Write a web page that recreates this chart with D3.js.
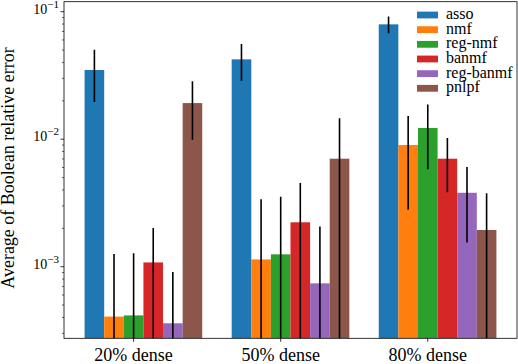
<!DOCTYPE html>
<html>
<head>
<meta charset="utf-8">
<script src="https://cdn.jsdelivr.net/npm/d3@7/dist/d3.min.js"></script>
<style>
  body { margin: 0; background: #fff; }
</style>
</head>
<body>
<div id="chart"></div>
<script>
const WIDTH = 518
const HEIGHT = 364
const FONT = "'Liberation Serif', 'Times New Roman', Times, 'DejaVu Serif', serif"

// donnees
const categories = ["20% dense", "50% dense", "80% dense"]
const methods = ["asso", "nmf", "reg-nmf", "banmf", "reg-banmf", "pnlpf"]
const colors = ["#1f77b4", "#ff7f0e", "#2ca02c", "#d62728", "#9467bd", "#8c564b"]

const asso = [0.0349, 0.0423, 0.0796]
const nmf = [4.06e-4, 1.14e-3, 9.0e-3]
const regNmf = [4.15e-4, 1.25e-3, 1.225e-2]
const banmf = [1.08e-3, 2.23e-3, 7.03e-3]
const regBanmf = [3.6e-4, 7.4e-4, 3.8e-3]
const pnlpf = [0.0192, 7.03e-3, 1.94e-3]

const assoErr = [0.0153, 0.0135, 0.0119]
const nmfErr = [8.5e-4, 2.24e-3, 6.2e-3]
const regNmfErr = [8.6e-4, 2.29e-3, 6.45e-3]
const banmfErr = [9.3e-4, 2.3e-3, 3.2e-3]
const regBanmfErr = [5.5e-4, 1.33e-3, 2.25e-3]
const pnlpfErr = [9.3e-3, 7.56e-3, 1.83e-3]

const yTicks = [1e-3, 1e-2, 1e-1]
const yTickExp = ["\u22123", "\u22122", "\u22121"]

const values = [asso, nmf, regNmf, banmf, regBanmf, pnlpf]
const errors = [assoErr, nmfErr, regNmfErr, banmfErr, regBanmfErr, pnlpfErr]

const plot = { left: 64, right: 517, top: 1.7, bottom: 338.3 }
const w = 0.8 / 6

const x = d3.scaleLinear()
    .domain([-2.5 * w - 0.14, 2 + 3.5 * w + 0.14])
    .range([plot.left, plot.right])

const y = d3.scaleLog()
    .domain([2.744e-4, 0.1198])
    .range([plot.bottom, plot.top])

const svg = d3.select("#chart")
    .append("svg")
    .attr("width", WIDTH)
    .attr("height", HEIGHT)
    .attr("font-family", FONT)
    .style("font-family", FONT)

svg.append("defs").append("clipPath")
    .attr("id", "clip")
    .append("rect")
    .attr("x", plot.left)
    .attr("y", plot.top)
    .attr("width", plot.right - plot.left)
    .attr("height", plot.bottom - plot.top)

const bars = svg.append("g").attr("clip-path", "url(#clip)")

// une serie par methode
methods.forEach((m, i) => {
    const rows = categories.map((c, g) => ({
        g: g,
        v: values[i][g],
        e: errors[i][g]
    }))
    const s = bars.append("g").attr("class", "serie")

    s.selectAll("rect")
        .data(rows)
        .enter()
        .append("rect")
        .attr("x", d => x(d.g + (i - 2) * w - w / 2))
        .attr("width", x(w) - x(0))
        .attr("y", d => y(d.v))
        .attr("height", d => plot.bottom - y(d.v))
        .attr("fill", colors[i])

    s.selectAll("line")
        .data(rows)
        .enter()
        .append("line")
        .attr("x1", d => x(d.g + (i - 2) * w))
        .attr("x2", d => x(d.g + (i - 2) * w))
        .attr("y1", d => y(d.v + d.e))
        .attr("y2", d => d.v - d.e > 0 ? y(d.v - d.e) : plot.bottom + 5)
        .attr("stroke", "#000")
        .attr("stroke-width", 1.6)
})

// axe x
const xAxis = svg.append("g")
xAxis.selectAll("line")
    .data(categories)
    .enter()
    .append("line")
    .attr("x1", (d, i) => x(i))
    .attr("x2", (d, i) => x(i))
    .attr("y1", plot.bottom)
    .attr("y2", plot.bottom + 3.5)
    .attr("stroke", "#000")
    .attr("stroke-width", 0.8)
xAxis.selectAll("text")
    .data(categories)
    .enter()
    .append("text")
    .attr("x", (d, i) => x(i))
    .attr("y", 361)
    .attr("text-anchor", "middle")
    .attr("font-size", 18)
    .text(d => d)

// axe y (log)
const minor = []
for (let k = -4; k <= -1; k++) {
    for (let j = 2; j <= 9; j++) {
        const v = j * Math.pow(10, k)
        if (v >= y.domain()[0] && v <= y.domain()[1]) minor.push(v)
    }
}
const yAxis = svg.append("g")
yAxis.selectAll(".minor")
    .data(minor)
    .enter()
    .append("line")
    .attr("class", "minor")
    .attr("x1", plot.left - 2)
    .attr("x2", plot.left)
    .attr("y1", d => y(d))
    .attr("y2", d => y(d))
    .attr("stroke", "#000")
    .attr("stroke-width", 0.6)
yAxis.selectAll(".major")
    .data(yTicks)
    .enter()
    .append("line")
    .attr("class", "major")
    .attr("x1", plot.left - 3.5)
    .attr("x2", plot.left)
    .attr("y1", d => y(d))
    .attr("y2", d => y(d))
    .attr("stroke", "#000")
    .attr("stroke-width", 0.8)
const lab = yAxis.selectAll(".lab")
    .data(yTicks)
    .enter()
    .append("text")
    .attr("class", "lab")
    .attr("x", 59)
    .attr("y", d => y(d) + 2)
    .attr("text-anchor", "end")
    .attr("font-size", 14)
lab.append("tspan").text("10")
lab.append("tspan")
    .attr("dy", -6)
    .attr("font-size", 11)
    .text((d, i) => yTickExp[i])

svg.append("text")
    .attr("transform", "translate(14," + 168 + ") rotate(-90)")
    .attr("text-anchor", "middle")
    .attr("font-size", 18)
    .text("Average of Boolean relative error")

// cadre
svg.append("rect")
    .attr("x", plot.left)
    .attr("y", plot.top)
    .attr("width", plot.right - plot.left)
    .attr("height", plot.bottom - plot.top)
    .attr("fill", "none")
    .attr("stroke", "#000")
    .attr("stroke-width", 0.8)

// legende
const legend = svg.append("g")
    .selectAll("g")
    .data(methods)
    .enter()
    .append("g")
    .attr("transform", (d, i) => "translate(417," + (15 + i * 14.66) + ")")
legend.append("rect")
    .attr("x", 0)
    .attr("y", -3.4)
    .attr("width", 21)
    .attr("height", 6.8)
    .attr("fill", (d, i) => colors[i])
legend.append("text")
    .attr("x", 29)
    .attr("y", 4)
    .attr("font-size", 16)
    .text(d => d)
</script>
</body>
</html>
